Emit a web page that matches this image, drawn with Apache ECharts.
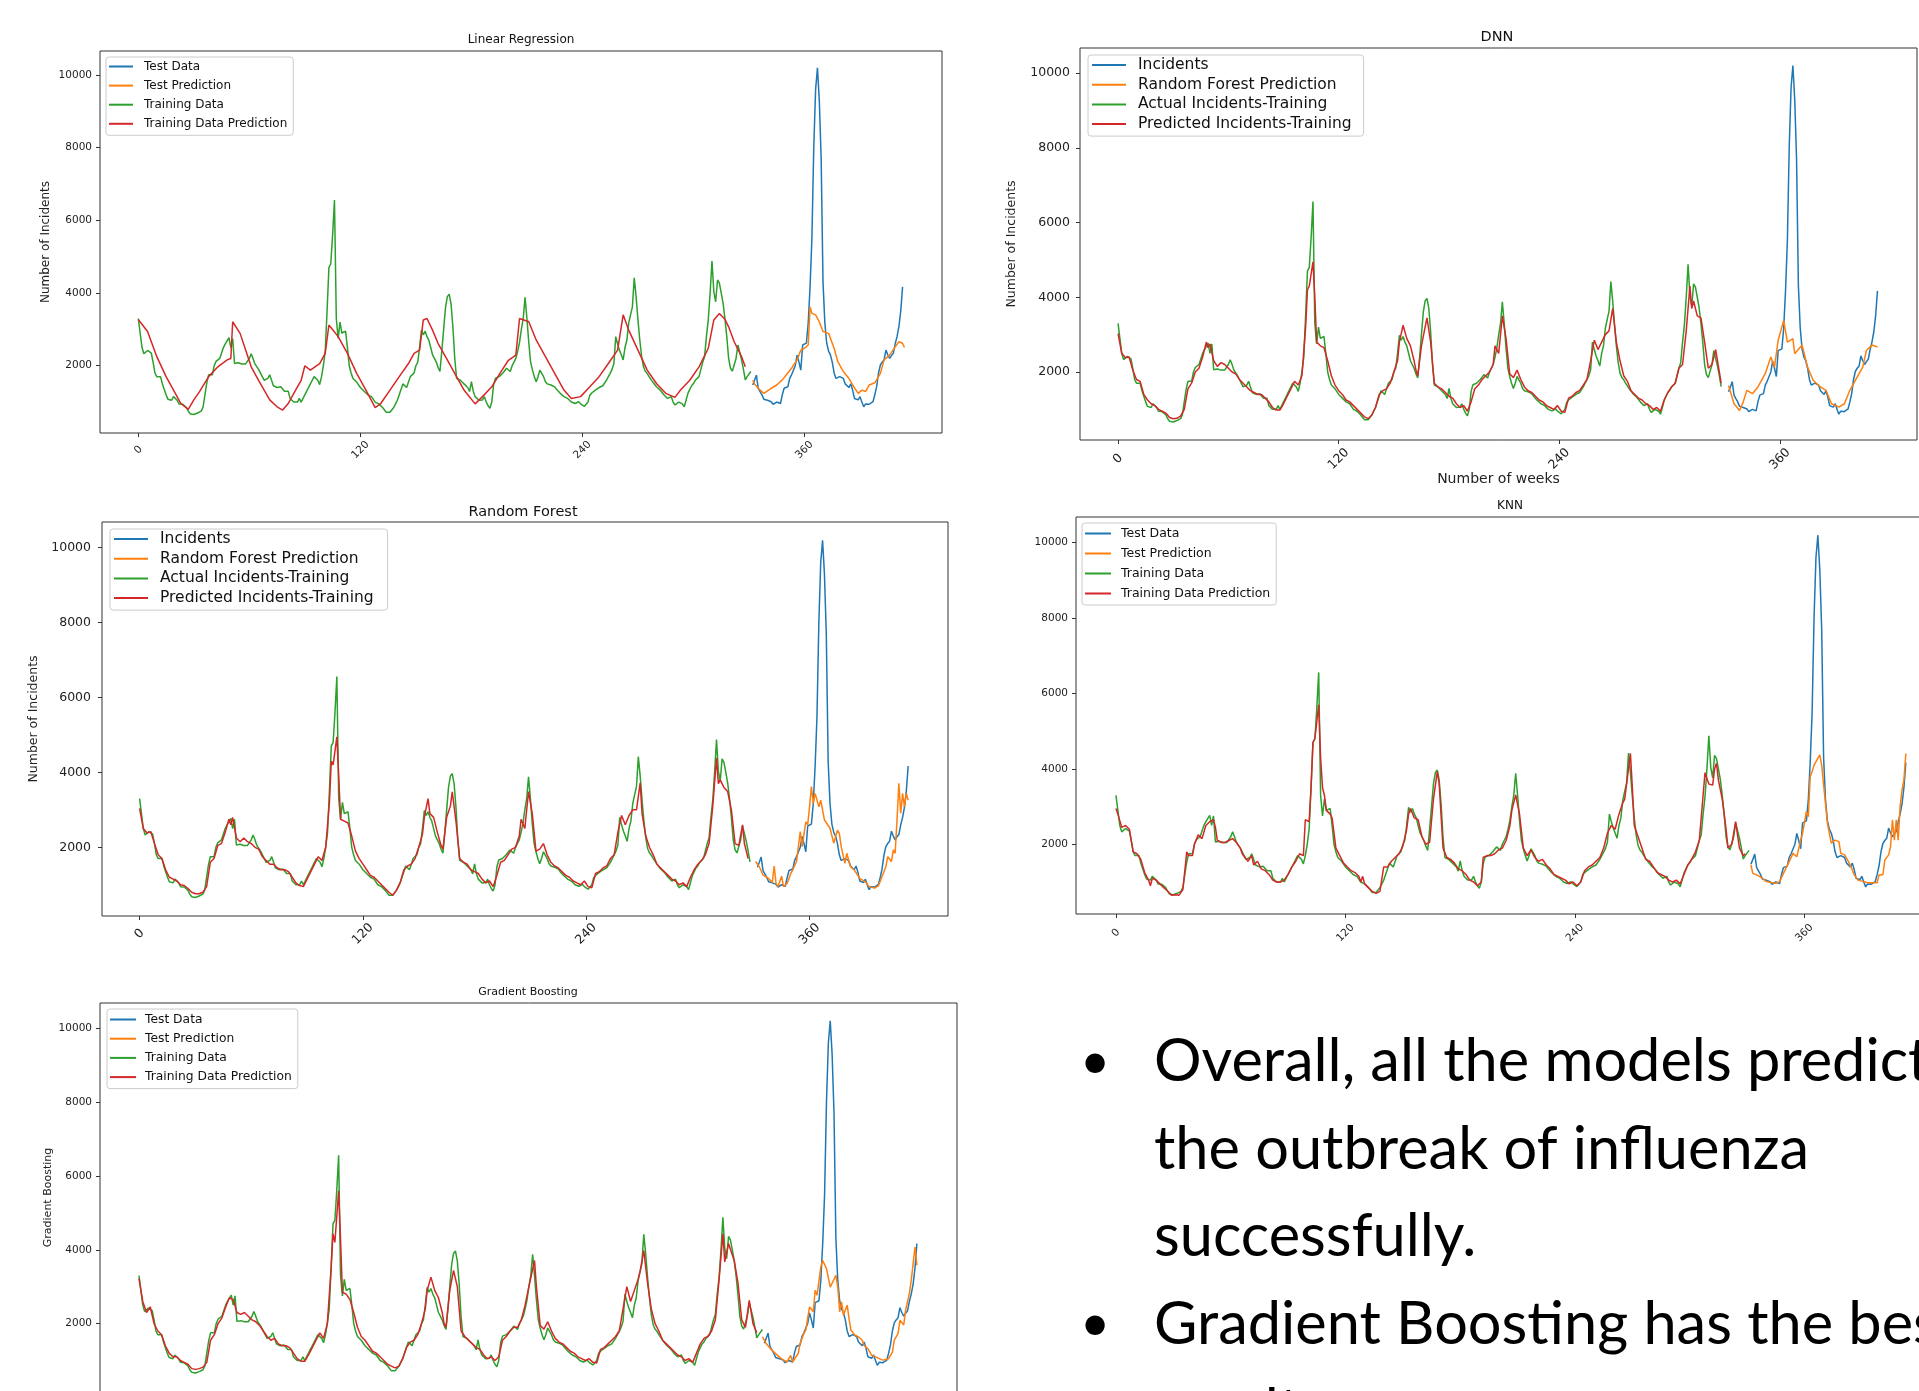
<!DOCTYPE html>
<html>
<head>
<meta charset="utf-8">
<title>Influenza incidents - model predictions</title>
<script src="https://cdn.jsdelivr.net/npm/echarts@6/dist/echarts.min.js"></script>
<style>
  html, body { margin: 0; padding: 0; background: #fff; overflow: hidden; }
  #main { width: 1919px; height: 1391px; }
</style>
</head>
<body>
<div id="main"></div>
<script>
// weekly incidents, training part (week 0 .. 331)
var trainStartWeek = 0;
var trainIncidents = [
  3300, 2900, 2500, 2330, 2350, 2420, 2400, 2350, 2100, 1800,
  1700, 1680, 1700, 1500, 1350, 1200, 1080, 1100, 1050, 1150,
  1100, 1050, 950, 960, 940, 900, 850, 750, 680, 650,
  660, 650, 700, 680, 750, 860, 1200, 1530, 1750, 1700,
  1750, 2000, 2120, 2150, 2200, 2350, 2500, 2600, 2650, 2770,
  2500, 2750, 2060, 2050, 2080, 2040, 2050, 2060, 2050, 2100,
  2200, 2330, 2200, 2050, 2000, 1900, 1850, 1700, 1600, 1550,
  1650, 1750, 1600, 1450, 1450, 1400, 1400, 1420, 1380, 1300,
  1250, 1300, 1100, 1050, 1000, 980, 1000, 1100, 1000, 1100,
  1200, 1300, 1400, 1500, 1600, 1700, 1750, 1600, 1480, 1700,
  2000, 2400, 3500, 4700, 4800, 5600, 6560, 3300, 2750, 3200,
  2900, 2900, 2950, 2500, 2000, 1800, 1650, 1600, 1550, 1500,
  1400, 1350, 1300, 1250, 1200, 1220, 1150, 1100, 1000, 1050,
  950, 900, 850, 800, 720, 700, 720, 770, 850, 950,
  1050, 1200, 1350, 1500, 1450, 1400, 1550, 1700, 1750, 1800,
  2000, 2100, 2500, 2980, 2850, 2950, 2800, 2700, 2500, 2300,
  2200, 2100, 1950, 1840, 2400, 3000, 3600, 3900, 3970, 3700,
  3070, 2200, 1650, 1620, 1600, 1550, 1500, 1510, 1400, 1290,
  1560, 1300, 1150, 1100, 1050, 1000, 1060, 1150, 1000, 900,
  830, 1000, 1480, 1660, 1650, 1700, 1750, 1800, 1850, 1930,
  1900, 1840, 2000, 2100, 2200, 2400, 2640, 3000, 3300, 3880,
  3300, 2640, 2100, 1880, 1700, 1560, 1700, 1880, 1790, 1700,
  1560, 1500, 1480, 1470, 1450, 1420, 1350, 1300, 1240, 1200,
  1150, 1150, 1100, 1050, 1000, 980, 960, 960, 1010, 950,
  900, 880, 870, 1000, 1190, 1250, 1300, 1330, 1380, 1400,
  1420, 1450, 1470, 1600, 1700, 1790, 1900, 2060, 2800, 2600,
  2430, 2300, 2160, 2500, 2700, 3170, 3400, 3620, 4420, 3900,
  3260, 2700, 2250, 1970, 1850, 1790, 1700, 1650, 1550, 1500,
  1420, 1380, 1330, 1280, 1200, 1150, 1100, 1120, 1150, 1000,
  920, 960, 1000, 1010, 950, 870, 1050, 1240, 1350, 1450,
  1510, 1600, 1650, 1700, 1900, 2100, 2250, 2800, 3260, 4000,
  4880, 4040, 3760, 4360, 4270, 4000, 3720, 3300, 2800, 2200,
  1930, 1850, 1880, 2200, 2570, 2570, 2160, 1900, 1610, 1700,
  1740, 1840
];

// weekly incidents, test part (week 332 .. 413)
var testStartWeek = 332;
var testIncidents = [
  1470, 1600, 1740, 1380, 1290, 1200, 1080, 1060, 1050, 1000,
  1010, 940, 940, 1000, 1010, 960, 1200, 1380, 1400, 1420,
  1650, 1750, 1800, 2000, 2290, 2100, 1880, 2570, 2600, 2620,
  3170, 4170, 5500, 8000, 9600, 10200, 9300, 7700, 4300, 3170,
  2620, 2400, 2300, 2100, 1800, 1650, 1610, 1700, 1690, 1650,
  1500, 1470, 1400, 1500, 1330, 1100, 1080, 1060, 1150, 1000,
  870, 950, 980, 940, 940, 1010, 1200, 1430, 1800, 2020,
  2100, 2160, 2430, 2300, 2200, 2280, 2340, 2600, 2800, 3070,
  3500, 4170
];

// model predictions, [week, incidents]
var lrTrainPred = [[0,3270],[5,2940],[10,2250],[15,1700],[20,1240],[23,960],[27,800],[30,1060],[33,1280],[38,1700],[43,1970],[48,2160],[50,2200],[51,3210],[55,2890],[58,2430],[61,1970],[65,1600],[68,1330],[71,1060],[75,870],[78,780],[81,960],[85,1330],[88,1600],[90,2000],[93,1880],[98,2060],[101,2340],[103,3120],[108,2800],[113,2340],[118,1790],[123,1330],[128,850],[131,960],[136,1330],[141,1700],[146,2060],[149,2340],[152,2430],[154,3260],[156,3300],[159,2980],[162,2610],[166,2250],[171,1790],[176,1330],[182,950],[186,1150],[191,1420],[196,1840],[200,2150],[204,2290],[206,3300],[211,3210],[215,2710],[220,2250],[225,1790],[230,1330],[234,1100],[239,1150],[244,1420],[249,1700],[254,2060],[259,2430],[262,3400],[265,2980],[270,2430],[275,1880],[280,1510],[285,1240],[290,1130],[293,1330],[298,1600],[303,1970],[308,2480],[311,3260],[314,3440],[317,3280],[319,3070],[322,2660],[326,2250],[328,1970]];
var lrTestPred = [[332,1600],[333,1500],[335,1380],[338,1240],[339,1260],[342,1380],[345,1470],[348,1610],[350,1740],[353,1930],[356,2160],[358,2430],[360,2480],[362,2570],[363,3620],[364,3440],[366,3400],[368,3210],[370,2940],[373,2890],[376,2480],[378,2110],[381,1840],[384,1650],[386,1470],[389,1240],[391,1330],[393,1290],[395,1470],[398,1530],[401,1790],[403,2160],[406,2290],[409,2520],[411,2660],[413,2620],[414,2500]];

var dnnTrainPred = [[0,3030],[2,2500],[4,2380],[6,2400],[8,2050],[10,1800],[12,1750],[14,1400],[16,1250],[18,1150],[20,1100],[22,1000],[24,950],[26,900],[28,780],[30,750],[32,760],[34,820],[36,1000],[38,1550],[40,1700],[42,2000],[44,2100],[46,2400],[48,2800],[49,2650],[50,2750],[52,2300],[54,2150],[56,2250],[58,2200],[60,2100],[62,2000],[64,1950],[66,1800],[68,1700],[70,1600],[72,1500],[74,1450],[76,1400],[78,1400],[80,1300],[82,1200],[84,1050],[86,980],[88,980],[90,1150],[92,1350],[94,1550],[96,1750],[98,1650],[100,1900],[102,3200],[103,4200],[104,4300],[106,4950],[107,4000],[108,2800],[110,2700],[112,2650],[114,2300],[116,1900],[118,1650],[120,1500],[122,1400],[124,1250],[126,1200],[128,1100],[130,1000],[132,900],[134,800],[136,750],[138,850],[140,1050],[142,1400],[144,1500],[146,1550],[148,1700],[150,2000],[152,2300],[153,2800],[155,3250],[157,2900],[159,2700],[161,2300],[162,2050],[163,1900],[165,2700],[167,3200],[168,3450],[170,2800],[172,1700],[174,1600],[176,1550],[178,1450],[180,1350],[182,1300],[184,1150],[186,1050],[188,1100],[190,950],[192,1200],[194,1550],[196,1650],[198,1800],[200,1900],[202,2000],[204,2200],[205,2700],[207,2500],[209,3500],[211,2900],[213,1950],[215,1850],[217,2050],[219,1800],[221,1600],[223,1500],[225,1450],[227,1350],[229,1250],[231,1200],[233,1100],[235,1050],[237,1000],[239,1100],[241,950],[243,920],[245,1300],[247,1350],[249,1450],[251,1500],[253,1650],[255,1800],[257,2300],[259,2850],[261,2600],[263,2800],[265,3000],[267,3100],[269,3700],[271,2800],[273,2300],[275,1900],[277,1750],[279,1500],[281,1400],[283,1300],[285,1250],[287,1150],[289,1100],[291,1000],[293,1050],[295,950],[297,1250],[299,1450],[301,1600],[303,1700],[305,2100],[307,2200],[309,3100],[311,4300],[312,3700],[313,3900],[315,3500],[317,3450],[319,2800],[321,2100],[323,2200],[325,2600],[327,2000],[328,1700]];
var dnnTestPred = [[332,1640],[335,1150],[338,970],[340,1200],[342,1510],[345,1420],[348,1600],[352,1960],[355,2400],[357,2130],[359,2850],[362,3380],[364,2800],[367,2890],[368,2490],[372,2720],[375,2130],[378,1780],[382,1600],[385,1510],[388,1150],[392,1060],[395,1150],[398,1510],[402,1870],[405,2130],[407,2580],[410,2720],[413,2670]];

var rfTrainPred = [[0,3040],[2,2500],[4,2380],[6,2420],[8,2100],[10,1800],[12,1700],[14,1400],[16,1200],[18,1150],[20,1100],[22,1000],[24,980],[26,900],[28,800],[30,760],[32,760],[34,800],[36,950],[38,1600],[40,1700],[42,2050],[44,2100],[46,2400],[48,2750],[49,2600],[50,2800],[52,2250],[54,2150],[56,2250],[58,2150],[60,2100],[62,2000],[64,1950],[66,1750],[68,1650],[70,1550],[72,1550],[74,1450],[76,1400],[78,1400],[80,1350],[82,1200],[84,1050],[86,980],[88,950],[90,1150],[92,1350],[94,1550],[96,1750],[98,1650],[100,2000],[102,3200],[103,4300],[104,4200],[106,4950],[107,3900],[108,2750],[110,2700],[112,2650],[114,2300],[116,1900],[118,1700],[120,1550],[122,1400],[124,1250],[126,1200],[128,1100],[130,1000],[132,900],[134,800],[136,720],[138,850],[140,1050],[142,1400],[144,1500],[146,1550],[148,1700],[150,2000],[152,2350],[153,2800],[155,3300],[156,2900],[158,2800],[160,2400],[162,2050],[163,1950],[165,2800],[167,3100],[168,3480],[170,2700],[172,1700],[174,1600],[176,1550],[178,1400],[180,1350],[182,1300],[184,1150],[186,1050],[188,1100],[190,950],[192,1250],[194,1600],[196,1650],[198,1800],[200,1950],[202,2000],[204,2300],[205,2750],[207,2500],[209,3490],[211,2900],[213,1900],[215,1950],[217,2100],[219,1800],[221,1600],[223,1500],[225,1450],[227,1350],[229,1250],[231,1200],[233,1100],[235,1050],[237,1000],[239,1100],[241,950],[243,920],[245,1300],[247,1350],[249,1450],[251,1500],[253,1700],[255,1800],[257,2400],[259,2850],[261,2600],[263,2850],[265,3000],[267,3000],[269,3720],[270,2900],[272,2300],[274,2000],[276,1800],[278,1550],[280,1450],[282,1350],[284,1250],[286,1150],[288,1100],[290,1000],[292,1050],[294,950],[296,1200],[298,1400],[300,1550],[302,1650],[304,1800],[306,2100],[308,3100],[310,4380],[311,3700],[312,3800],[314,3600],[316,3490],[318,3000],[320,2100],[322,2050],[324,2600],[325,2100],[327,1700]];
var rfTestPred = [[331,1620],[333,1480],[335,1260],[338,1170],[340,1060],[341,1500],[342,1030],[343,950],[345,1230],[346,950],[348,1040],[350,1310],[351,1400],[353,1620],[355,2420],[356,2020],[358,2680],[359,2600],[360,3080],[361,3620],[362,3170],[363,3440],[365,3080],[366,3260],[367,3000],[368,2730],[369,2680],[371,2510],[373,2110],[375,2460],[376,2370],[377,2020],[379,1570],[380,1840],[382,1480],[384,1400],[385,1400],[387,1170],[390,1080],[392,950],[395,910],[397,970],[399,1220],[401,1480],[402,1750],[404,1620],[405,1930],[406,1840],[407,2730],[408,3710],[409,2910],[410,3440],[411,3080],[412,3440],[413,3260]];

var knnTrainPred = [[0,2950],[1,2800],[3,2450],[5,2500],[7,2400],[9,1800],[11,1750],[13,1600],[15,1250],[17,1050],[18,900],[19,1100],[21,1050],[23,950],[25,850],[27,760],[29,650],[31,660],[33,650],[35,800],[36,750],[37,1800],[38,1700],[40,1700],[41,2000],[43,2250],[45,2150],[47,2500],[49,2600],[51,2650],[52,2450],[53,2100],[55,2050],[57,2050],[59,2100],[61,2150],[63,2050],[65,1900],[66,1750],[67,1800],[69,1550],[71,1700],[72,1450],[74,1550],[76,1350],[77,1400],[78,1300],[80,1200],[82,1050],[84,1000],[86,1000],[88,1050],[90,1200],[92,1400],[94,1550],[96,1750],[98,1700],[99,2650],[101,2600],[102,3500],[103,4700],[104,4800],[106,5700],[107,4300],[108,3500],[109,3300],[110,2900],[112,2800],[113,2700],[115,1900],[117,1700],[119,1500],[121,1400],[123,1300],[125,1250],[127,1150],[128,1000],[129,1150],[130,950],[132,850],[134,750],[136,700],[138,750],[140,1400],[142,1400],[144,1550],[146,1650],[148,1750],[150,1950],[152,2400],[153,2800],[154,2950],[156,2700],[158,2650],[160,2200],[162,2000],[164,2050],[166,3200],[168,3930],[169,3600],[171,1900],[173,1650],[175,1600],[177,1500],[179,1350],[181,1300],[183,1200],[185,1050],[187,1000],[189,900],[191,1000],[192,1650],[194,1700],[196,1700],[198,1750],[200,1850],[202,1900],[204,2100],[206,2500],[207,2900],[209,3310],[211,2800],[213,1900],[215,1700],[217,1850],[219,1650],[221,1550],[223,1600],[225,1450],[227,1350],[229,1200],[231,1150],[233,1100],[235,1050],[237,950],[239,1000],[241,900],[243,1000],[245,1300],[247,1400],[249,1450],[251,1550],[253,1650],[255,1900],[257,2300],[259,2500],[261,2400],[263,2800],[265,3100],[266,3200],[269,4410],[270,3500],[271,2500],[273,2200],[275,1900],[277,1600],[279,1550],[281,1400],[283,1250],[285,1200],[287,1150],[289,1050],[291,1000],[293,1050],[295,950],[297,1200],[299,1450],[301,1600],[303,1800],[305,2100],[307,3300],[308,3900],[309,3930],[310,3600],[312,3570],[313,4000],[314,4150],[315,3700],[317,3200],[319,2400],[320,1900],[322,2000],[324,2600],[326,1900],[328,1700],[329,1750]];
var knnTestPred = [[332,1450],[333,1230],[335,1190],[338,1100],[340,1010],[343,980],[345,965],[347,1010],[349,1230],[350,1230],[352,1540],[353,1500],[354,1760],[356,1670],[358,2110],[359,2290],[361,2870],[362,2730],[363,3790],[364,3930],[365,4100],[366,4080],[368,4370],[369,4100],[370,4080],[372,2560],[373,2290],[374,2030],[376,2110],[378,2070],[379,1760],[381,1720],[383,1540],[385,1320],[386,1190],[388,1050],[391,1010],[393,980],[396,980],[398,980],[399,1190],[401,1190],[402,1580],[404,1720],[405,1940],[406,2650],[407,2110],[408,2650],[409,2110],[410,3000],[411,3440],[412,3710],[413,4410]];

var gbTrainPred = [[0,3220],[2,2600],[4,2300],[6,2450],[8,2000],[10,1800],[12,1700],[14,1400],[16,1200],[18,1100],[20,1100],[22,1000],[24,950],[26,900],[28,780],[30,760],[32,780],[34,820],[36,950],[38,1550],[40,1700],[42,2000],[44,2150],[46,2450],[48,2700],[50,2650],[52,2300],[54,2250],[56,2300],[58,2200],[60,2100],[62,2050],[64,1950],[66,1800],[68,1650],[70,1550],[72,1600],[74,1450],[76,1400],[78,1400],[80,1350],[82,1200],[84,1050],[86,980],[88,980],[90,1150],[92,1350],[94,1550],[96,1750],[98,1600],[100,2000],[102,3500],[103,4430],[104,4200],[106,5600],[107,4300],[108,2850],[110,2800],[112,2650],[114,2300],[116,1900],[118,1650],[120,1550],[122,1400],[124,1250],[126,1200],[128,1100],[130,1000],[132,900],[134,850],[136,800],[138,850],[140,1050],[142,1350],[144,1500],[146,1550],[148,1700],[150,2000],[152,2400],[153,2900],[155,3260],[157,2900],[159,2700],[161,2300],[162,2000],[163,1900],[165,2900],[167,3440],[169,3000],[171,1800],[173,1650],[175,1550],[177,1450],[179,1350],[181,1300],[183,1150],[185,1050],[187,1100],[189,1000],[191,1100],[193,1550],[195,1650],[197,1800],[199,1900],[201,1900],[203,2100],[205,2500],[207,3000],[210,3710],[211,3000],[213,1950],[215,1850],[217,2050],[219,1800],[221,1600],[223,1500],[225,1450],[227,1350],[229,1250],[231,1200],[233,1100],[235,1050],[237,1000],[239,1050],[241,950],[243,930],[245,1300],[247,1350],[249,1450],[251,1550],[253,1650],[255,1800],[257,2400],[259,3000],[261,2600],[263,2900],[265,3200],[266,3400],[268,3980],[270,3100],[272,2400],[274,2000],[276,1800],[278,1550],[280,1450],[282,1350],[284,1250],[286,1150],[288,1100],[290,1000],[292,1050],[294,950],[296,1200],[298,1450],[300,1600],[302,1650],[304,1800],[306,2100],[308,3200],[310,4430],[311,3670],[313,4170],[316,3710],[318,3100],[320,2100],[322,1900],[324,2630],[326,2000],[328,1750]];
var gbTestPred = [[331,1640],[333,1460],[336,1280],[339,1140],[341,1050],[344,960],[346,1140],[347,960],[350,1190],[351,1460],[353,1730],[354,1820],[356,2450],[358,2320],[359,2900],[360,2770],[362,3530],[363,3710],[365,3490],[366,3530],[367,2990],[368,2950],[370,3310],[371,2990],[372,2320],[373,2590],[374,2230],[376,2500],[377,2130],[378,1820],[380,1690],[382,1640],[384,1550],[385,1410],[387,1320],[389,1140],[391,1100],[393,1050],[395,1010],[398,1050],[400,1230],[401,1550],[403,1730],[404,2090],[406,1960],[407,2360],[409,2810],[410,3170],[411,3620],[412,4070],[413,3580]];

var xTicks = [0, 120, 240, 360];
var yTicks = [2000, 4000, 6000, 8000, 10000];

var namesA = ['Test Data', 'Test Prediction', 'Training Data', 'Training Data Prediction'];
var namesB = ['Incidents', 'Random Forest Prediction', 'Actual Incidents-Training', 'Predicted Incidents-Training'];

var noteLines = [
  { bullet: true, text: 'Overall, all the models predicted' },
  { bullet: false, text: 'the outbreak of influenza' },
  { bullet: false, text: 'successfully.' },
  { bullet: true, text: 'Gradient Boosting has the best' },
  { bullet: false, text: 'results.' }
];

var COLORS = ['#1f77b4', '#ff7f0e', '#2ca02c', '#d62728'];
var FONT = "'DejaVu Sans', Verdana, sans-serif";
var NOTE_FONT = "Lato, 'Open Sans', sans-serif";

function toPairs(start, values) {
  return values.map(function (v, i) { return [start + i, v]; });
}
var actualTrain = toPairs(trainStartWeek, trainIncidents);
var actualTest = toPairs(testStartWeek, testIncidents);

// one entry per subplot, positions in page pixels
var panels = [
  { title: 'Linear Regression', tx: 521, ty: 40, ts: 12,
    box: [100, 51, 842, 382], xr: [-20.7, 434.3], yr: [149, 10660],
    tick: 10.5, xm: 17, ym: 8, yName: 'Number of Incidents', yns: 12, yng: 54,
    names: namesA, trainEnd: 331, testPred: lrTestPred, trainPred: lrTrainPred,
    lg: { left: 106, top: 57, size: 12, lh: 13, gap: 6.1, w: 24, tp: 6, pad: [3, 6, 5, 3] } },
  { title: 'DNN', tx: 1497, ty: 37, ts: 14.5,
    box: [1080, 48, 837, 392], xr: [-20.7, 434.5], yr: [180, 10670],
    tick: 12.5, xm: 19, ym: 10, yName: 'Number of Incidents', yns: 12.5, yng: 68,
    xName: 'Number of weeks', xns: 14, xng: 39,
    names: namesB, trainEnd: 328, testPred: dnnTestPred, trainPred: dnnTrainPred,
    lg: { left: 1088, top: 55, size: 15.5, lh: 16, gap: 3.7, w: 34, tp: 7, pad: [2, 12, 4, 4] } },
  { title: 'Random Forest', tx: 523, ty: 512, ts: 14.5,
    box: [102, 522, 846, 394], xr: [-20.2, 434.4], yr: [166, 10686],
    tick: 12.5, xm: 18, ym: 11, yName: 'Number of Incidents', yns: 12.5, yng: 68,
    names: namesB, trainEnd: 328, testPred: rfTestPred, trainPred: rfTrainPred,
    lg: { left: 110, top: 529, size: 15.5, lh: 16, gap: 3.7, w: 34, tp: 7, pad: [2, 14, 4, 4] } },
  { title: 'KNN', tx: 1510, ty: 506, ts: 12,
    box: [1076, 517, 870, 397], xr: [-20.9, 434], yr: [151, 10682],
    tick: 10.5, xm: 19, ym: 8,
    names: namesA, trainEnd: 331, testPred: knnTestPred, trainPred: knnTrainPred,
    lg: { left: 1082, top: 523, size: 12.5, lh: 13, gap: 7, w: 26, tp: 5, pad: [4, 6, 5, 3] } },
  { title: 'Gradient Boosting', tx: 528, ty: 992, ts: 11,
    box: [100, 1003, 857, 389], xr: [-20.7, 434.3], yr: [147, 10685],
    tick: 10.5, xm: 17, ym: 8, yName: 'Gradient Boosting', yns: 11, yng: 52,
    names: namesA, trainEnd: 331, testPred: gbTestPred, trainPred: gbTrainPred,
    lg: { left: 107, top: 1009, size: 12.3, lh: 13, gap: 6.2, w: 26, tp: 4, pad: [4, 6, 5, 3] } }
];

function plainNumber(v) { return String(v); }

var option = {
  animation: false,
  backgroundColor: '#ffffff',
  grid: [], xAxis: [], yAxis: [], legend: [], series: [], graphic: []
};

panels.forEach(function (p, i) {
  option.grid.push({
    left: p.box[0], top: p.box[1], width: p.box[2], height: p.box[3],
    show: true, borderColor: '#333', borderWidth: 1, backgroundColor: 'transparent',
    containLabel: false, outerBoundsMode: 'none'
  });

  option.xAxis.push({
    type: 'value', gridIndex: i, min: p.xr[0], max: p.xr[1],
    splitLine: { show: false }, axisLine: { show: false, onZero: false },
    axisTick: { show: true, length: 4, customValues: xTicks, lineStyle: { color: '#333' } },
    axisLabel: {
      customValues: xTicks, rotate: 45, align: 'center', verticalAlign: 'middle',
      margin: p.xm, fontSize: p.tick, fontFamily: FONT, color: '#222', formatter: plainNumber
    },
    name: p.xName || '', nameLocation: 'middle', nameGap: p.xng || 0, nameMoveOverlap: false,
    nameTextStyle: { fontSize: p.xns || 12, fontFamily: FONT, color: '#222', verticalAlign: 'middle' }
  });

  option.yAxis.push({
    type: 'value', gridIndex: i, min: p.yr[0], max: p.yr[1],
    splitLine: { show: false }, axisLine: { show: false, onZero: false },
    axisTick: { show: true, length: 4, customValues: yTicks, lineStyle: { color: '#333' } },
    axisLabel: { customValues: yTicks, margin: p.ym, fontSize: p.tick, fontFamily: FONT, color: '#222', formatter: plainNumber },
    name: p.yName || '', nameLocation: 'middle', nameGap: p.yng || 0, nameMoveOverlap: false,
    nameTextStyle: { fontSize: p.yns || 12, fontFamily: FONT, color: '#222', verticalAlign: 'middle', align: 'center' }
  });

  var lines = [
    actualTest,
    p.testPred,
    actualTrain.filter(function (d) { return d[0] <= p.trainEnd; }),
    p.trainPred
  ];
  lines.forEach(function (data, k) {
    option.series.push({
      type: 'line', name: p.names[k], xAxisIndex: i, yAxisIndex: i,
      data: data, showSymbol: false, symbol: 'none', silent: true,
      lineStyle: { color: COLORS[k], width: 1.5 },
      itemStyle: { color: COLORS[k] },
      z: 2 + k
    });
  });

  option.legend.push({
    orient: 'vertical', left: p.lg.left, top: p.lg.top,
    data: p.names, selectedMode: false,
    icon: 'rect', itemWidth: p.lg.w, itemHeight: 2, itemGap: p.lg.gap,
    itemStyle: { borderWidth: 0 },
    padding: p.lg.pad,
    backgroundColor: 'rgba(255,255,255,0.8)', borderColor: '#cccccc', borderWidth: 1, borderRadius: 3,
    textStyle: { fontSize: p.lg.size, fontFamily: FONT, color: '#111', lineHeight: p.lg.lh, padding: [0, 0, 0, p.lg.tp] }
  });

  option.graphic.push({
    type: 'text', x: p.tx, y: p.ty, silent: true,
    style: { text: p.title, fontSize: p.ts, fontFamily: FONT, fill: '#111', align: 'center', verticalAlign: 'middle' }
  });
});

// bullet notes in the lower right
noteLines.forEach(function (line, j) {
  var y = 1062 + j * 87.5;
  if (line.bullet) {
    option.graphic.push({
      type: 'text', x: 1095, y: y, silent: true,
      style: { text: '\u2022', fontSize: 52, fontFamily: NOTE_FONT, fill: '#000', align: 'center', verticalAlign: 'middle' }
    });
  }
  option.graphic.push({
    type: 'text', x: 1154, y: y, silent: true,
    style: { text: line.text, fontSize: 59.5, fontFamily: NOTE_FONT, fill: '#000', align: 'left', verticalAlign: 'middle' }
  });
});

var myChart = echarts.init(document.getElementById('main'));
myChart.setOption(option);
</script>
</body>
</html>
